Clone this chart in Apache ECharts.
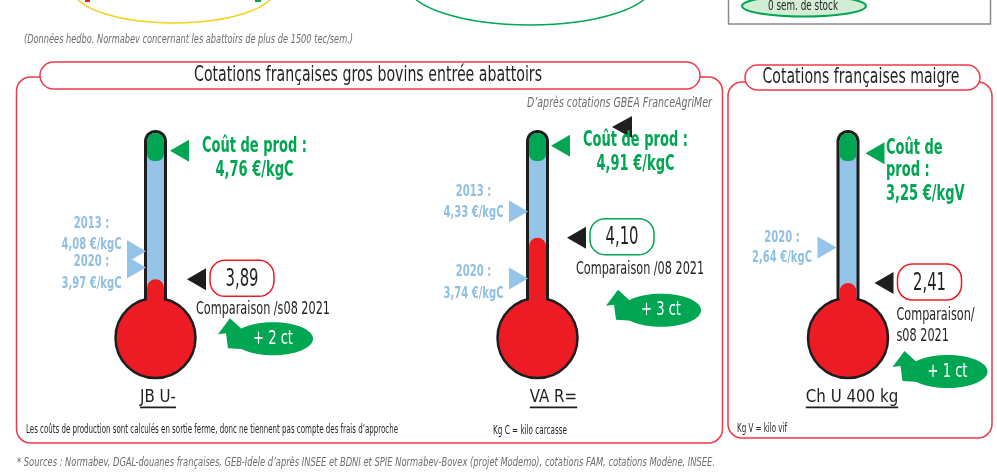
<!DOCTYPE html>
<html><head><meta charset="utf-8">
<script src="https://cdn.jsdelivr.net/npm/echarts@6/dist/echarts.min.js"></script>
<style>html,body{margin:0;padding:0;background:#fff}#c{width:997px;height:476px}</style>
</head><body><div id="c"></div>
<script>
// ---------- data ----------
const thermoNames = ['JB U-', 'VA R=', 'Ch U 400 kg'];
const costProd = [4.76, 4.91, 3.25];
const costUnits = ['€/kgC', '€/kgC', '€/kgV'];
const quote2013 = [4.08, 4.33, null];
const quote2020 = [3.97, 3.74, 2.64];
const quoteUnit = '€/kgC';
const quoteCurrent = [3.89, 4.10, 2.41];
const changeCt = [2, 3, 1];
const compareLabels = [['Comparaison /s08 2021'], ['Comparaison /08 2021'], ['Comparaison/', 's08 2021']];
const costLabelLines = [['Coût de prod :'], ['Coût de prod :'], ['Coût de', 'prod :']];

// ---------- styles ----------
const RED = '#ED1C24', GREEN = '#00A651', BLUE = '#94C4E7', BLUE_TXT = '#8FBFE3', DARK = '#231F20', GRAY = '#6D6E71', PANEL = '#EC3B4A', TUBE = '#1E1E1E';
const FAM = "'Liberation Sans Narrow','DejaVu Sans Condensed','Roboto Condensed','Roboto','Liberation Sans',sans-serif";
const mctx = document.createElement('canvas').getContext('2d');
function font(size, weight, style) { return (style || 'normal') + ' ' + (weight || 'normal') + ' ' + size + 'px ' + FAM; }
function mw(text, size, weight, style) { mctx.font = font(size, weight, style); return mctx.measureText(text).width; }
function fmt(v) { return v.toFixed(2).replace('.', ','); }
// text class: glyph size from the height, horizontal squeeze from the width of a sample
function cls(sample, w, size, weight, style) { return { size: size, weight: weight, style: style, k: w / mw(sample, size, weight, style) }; }

const TS = {
  cost: cls('Coût de prod :', 105, 20.5, 'bold'),
  year: cls('4,08 €/kgC', 60, 16, 'bold'),
  val: cls('3,89', 33, 25),
  cmp: cls('Comparaison /s08 2021', 134, 17),
  chg: cls('+ 2 ct', 40, 20),
  cat: cls('JB U-', 36, 17)
};

const layouts = [
  { left: 144, min: 3.75, max: 4.9, costDx: 24, costTx: 75, costAlign: 'center', costDy: [-4, 20],
    blueDx: -19, lab2013: [-27, -6], lab2020: [-6, 16], curDx: 41, boxColor: RED,
    cmpDx: -0.5, cmpDy: [30], blobDx: 76.5, blobDy: 59.5, catDx: 2.5 },
  { left: 526, min: 3.55, max: 5.05, costDx: 23, costTx: 75, costAlign: 'center', costDy: [-5, 19],
    blueDx: -19, lab2013: [-20, 1], lab2020: [-7, 15], curDx: 39, boxColor: GREEN,
    cmpDx: -0.5, cmpDy: [32], blobDx: 84.5, blobDy: 72.5, catDx: 16 },
  { left: 836.5, min: 2.3, max: 3.4, costDx: 27, costTx: 11, costAlign: 'left', costDy: [-5, 17, 41],
    blueDx: -21, lab2013: [-10, 10], lab2020: [-10, 10], curDx: 36, boxColor: RED,
    cmpDx: 12.5, cmpDy: [33, 54], blobDx: 63.5, blobDy: 88.5, catDx: 4 }
];

function tri(x, y, dir, fill) {
  const hw = 9.5, hh = 11;
  const pts = dir === 'left'
    ? [[x - hw, y], [x + hw, y - hh], [x + hw, y + hh]]
    : [[x + hw, y], [x - hw, y - hh], [x - hw, y + hh]];
  return { type: 'polygon', shape: { points: pts }, style: { fill: fill } };
}
function txt(text, x, y, c, fill, align) {
  return { type: 'text', x: x, y: y, scaleX: c.k, style: { text: text, font: font(c.size, c.weight, c.style), fill: fill, align: align || 'left', verticalAlign: 'middle' } };
}

function makeRender(i) {
  const L = layouts[i];
  return function (params, api) {
    const cost = api.value(1), q13 = api.value(2), q20 = api.value(3), cur = api.value(4), chg = api.value(5);
    const cs = params.coordSys;
    const pc = api.coord([0, cost]);
    const cx = pc[0], yCost = pc[1];
    const yCur = api.coord([0, cur])[1];
    const top = cs.y, bot = cs.y + cs.height;
    const bulbCy = bot + 38;
    const ch = [];
    // thermometer body
    ch.push({ type: 'rect', shape: { x: cx - 11.5, y: top, width: 23, height: bot - top + 12, r: [11.5, 11.5, 0, 0] }, style: { fill: TUBE } });
    ch.push({ type: 'rect', shape: { x: cx - 8.5, y: top + 3, width: 17, height: bot - top + 9, r: [8.5, 8.5, 0, 0] }, style: { fill: BLUE } });
    ch.push({ type: 'rect', shape: { x: cx - 8.5, y: top + 3, width: 17, height: 28, r: [8.5, 8.5, 7, 7] }, style: { fill: GREEN } });
    ch.push({ type: 'circle', shape: { cx: cx, cy: bulbCy, r: 40 }, style: { fill: RED, stroke: TUBE, lineWidth: 2.5 } });
    ch.push({ type: 'rect', shape: { x: cx - 8.5, y: yCur, width: 17, height: bulbCy - yCur, r: [8.5, 8.5, 0, 0] }, style: { fill: RED } });
    // cost marker + label
    const gx = cx + L.costDx;
    ch.push(tri(gx, yCost, 'left', GREEN));
    const cl = costLabelLines[i].concat([fmt(cost) + ' ' + costUnits[i]]);
    cl.forEach(function (t, k) { ch.push(txt(t, gx + L.costTx, yCost + L.costDy[k], TS.cost, GREEN, L.costAlign)); });
    // historical quotes
    const bx = cx + L.blueDx;
    [[q13, '2013', L.lab2013], [q20, '2020', L.lab2020]].forEach(function (q) {
      if (q[0] == null || isNaN(q[0])) return;
      const y = api.coord([0, q[0]])[1];
      ch.push(tri(bx, y, 'right', BLUE));
      ch.push(txt(q[1] + ' :', bx - 45, y + q[2][0], TS.year, BLUE_TXT, 'center'));
      ch.push(txt(fmt(q[0]) + ' ' + quoteUnit, bx - 45, y + q[2][1], TS.year, BLUE_TXT, 'center'));
    });
    // current quote
    const mx = cx + L.curDx;
    ch.push(tri(mx, yCur, 'left', TUBE));
    ch.push({ type: 'rect', shape: { x: mx + 13.5, y: yCur - 19, width: 64, height: 36, r: 15 }, style: { fill: '#fff', stroke: L.boxColor, lineWidth: 1.5 } });
    ch.push(txt(fmt(cur), mx + 45.5, yCur, TS.val, DARK, 'center'));
    compareLabels[i].forEach(function (t, k) { ch.push(txt(t, mx + L.cmpDx, yCur + L.cmpDy[k], TS.cmp, DARK, 'left')); });
    // change blob
    const ex = mx + L.blobDx, ey = yCur + L.blobDy;
    const arrow = [[-43, -20.5], [-55, -4.5], [-47, -5.5], [-45, 9.5], [-20, 11], [-20, -11.5], [-30, -8.5]].map(function (p) { return [ex + p[0], ey + p[1]]; });
    ch.push({ type: 'polygon', shape: { points: arrow }, style: { fill: GREEN } });
    ch.push({ type: 'ellipse', shape: { cx: ex, cy: ey, rx: 40, ry: 16.5 }, style: { fill: GREEN } });
    ch.push(txt('+ ' + chg + ' ct', ex, ey, TS.chg, '#fff', 'center'));
    // category label, underlined
    const name = thermoNames[i];
    const lx = cx + L.catDx;
    const w = mw(name, TS.cat.size, TS.cat.weight) * TS.cat.k;
    ch.push(txt(name, lx, bulbCy + 60, TS.cat, DARK, 'center'));
    ch.push({ type: 'rect', shape: { x: lx - w / 2, y: bulbCy + 68.5, width: w, height: 1.8 }, style: { fill: DARK } });
    return { type: 'group', children: ch };
  };
}

// ---------- static decoration & texts ----------
const G = [];
G.push({ type: 'ellipse', shape: { cx: 174, cy: -10, rx: 100, ry: 33 }, style: { fill: 'none', stroke: '#F3D21C', lineWidth: 1.5 } });
G.push({ type: 'rect', shape: { x: 85, y: -2, width: 5, height: 4 }, style: { fill: RED } });
G.push({ type: 'rect', shape: { x: 255, y: -2, width: 6, height: 4 }, style: { fill: GREEN } });
G.push({ type: 'ellipse', shape: { cx: 530, cy: -15, rx: 122, ry: 40 }, style: { fill: 'none', stroke: GREEN, lineWidth: 1.5 } });
G.push({ type: 'rect', shape: { x: 728.5, y: -10, width: 262, height: 34 }, style: { fill: 'none', stroke: '#8A8A8A', lineWidth: 1.5 } });
G.push({ type: 'ellipse', shape: { cx: 804, cy: 6, rx: 62, ry: 10.5 }, style: { fill: '#D3ECD6', stroke: GREEN, lineWidth: 2 } });
G.push({ type: 'rect', shape: { x: 16.5, y: 77, width: 706, height: 366, r: 14 }, style: { fill: 'none', stroke: PANEL, lineWidth: 1.5 } });
G.push({ type: 'rect', shape: { x: 40, y: 62, width: 660, height: 27, r: 13.5 }, style: { fill: '#fff', stroke: PANEL, lineWidth: 1.5 } });
G.push({ type: 'rect', shape: { x: 728, y: 82, width: 264, height: 356, r: 14 }, style: { fill: 'none', stroke: PANEL, lineWidth: 1.5 } });
G.push({ type: 'rect', shape: { x: 745, y: 65, width: 235, height: 25, r: 12.5 }, style: { fill: '#fff', stroke: PANEL, lineWidth: 1.5 } });
G.push({ type: 'polygon', shape: { points: [[612, 127], [632, 116], [632, 138]] }, style: { fill: DARK } });
function T(text, x, y, w, size, opt) {
  opt = opt || {};
  const k = w / mw(text, size, opt.weight, opt.style);
  G.push({ type: 'text', x: x, y: y, scaleX: k, style: { text: text, font: font(size, opt.weight, opt.style), fill: opt.fill || DARK, align: opt.align || 'left', verticalAlign: 'middle' } });
}
T('0 sem. de stock', 803, 6.5, 70, 14, { align: 'center' });
T('(Données hedbo. Normabev concernant les abattoirs de plus de 1500 tec/sem.)', 24, 40, 329, 13, { style: 'italic', fill: GRAY });
T('Cotations françaises gros bovins entrée abattoirs', 368, 75.5, 348, 21.5, { align: 'center' });
T('Cotations françaises maigre', 861, 77.5, 197, 21.5, { align: 'center' });
T('D’après cotations GBEA FranceAgriMer', 712, 103, 185, 14, { align: 'right', style: 'italic', fill: GRAY });
T('Les coûts de production sont calculés en sortie ferme, donc ne tiennent pas compte des frais d’approche', 26, 430, 372, 12);
T('Kg C = kilo carcasse', 493, 431, 74, 12);
T('Kg V = kilo vif', 737, 429, 50, 12);
T('* Sources : Normabev, DGAL-douanes françaises, GEB-Idele d’après INSEE et BDNI et SPIE Normabev-Bovex (projet Modemo), cotations FAM, cotations Modène, INSEE.', 17, 463, 698, 12.5, { style: 'italic', fill: GRAY });

const option = {
  animation: false,
  backgroundColor: '#fff',
  graphic: G,
  grid: layouts.map(function (L) { return { left: L.left, top: 130, width: 23, height: 170 }; }),
  xAxis: layouts.map(function (L, i) { return { type: 'category', gridIndex: i, data: [thermoNames[i]], show: false }; }),
  yAxis: layouts.map(function (L, i) { return { type: 'value', gridIndex: i, min: L.min, max: L.max, show: false }; }),
  series: layouts.map(function (L, i) {
    return {
      type: 'custom', xAxisIndex: i, yAxisIndex: i, silent: true, z: 3,
      dimensions: ['cat', 'cost', 'q2013', 'q2020', 'current', 'change'],
      encode: { x: 0, y: 1 },
      renderItem: makeRender(i),
      data: [[0, costProd[i], quote2013[i], quote2020[i], quoteCurrent[i], changeCt[i]]]
    };
  })
};
const chart = echarts.init(document.getElementById('c'), null, { renderer: 'canvas' });
chart.setOption(option);
</script>
</body></html>
